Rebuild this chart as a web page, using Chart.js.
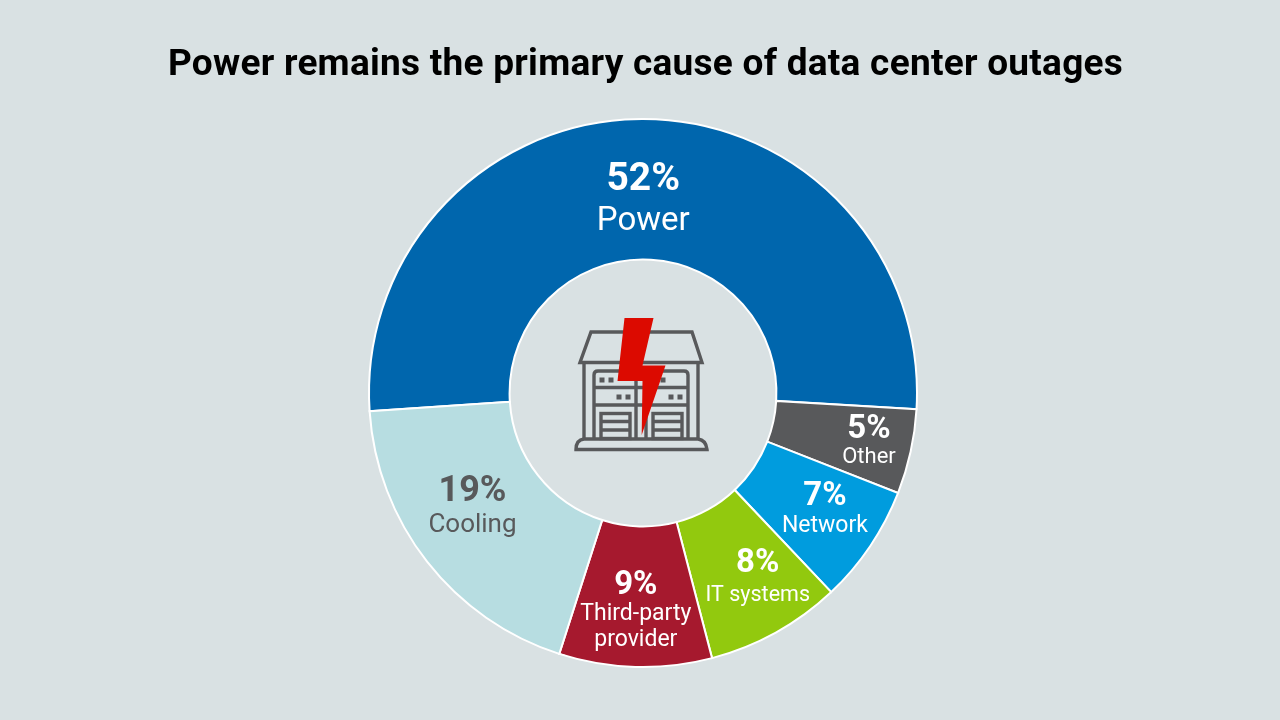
<!DOCTYPE html>
<html>
<head>
<meta charset="utf-8">
<title>Data center outages</title>
<script src="https://cdn.jsdelivr.net/npm/chart.js@4"></script>
<style>
  html, body { margin: 0; padding: 0; background: #d9e1e3; }
  #wrap { width: 1280px; height: 720px; }
</style>
</head>
<body>
<div id="wrap"><canvas id="chart" width="1280" height="720"></canvas></div>
<script>
  var TITLE = 'Power remains the primary cause of data center outages';
  var categories = ['Power', 'Other', 'Network', 'IT systems', 'Third-party provider', 'Cooling'];
  var values = [52, 5, 7, 8, 9, 19];
  var labelLines = [['Power'], ['Other'], ['Network'], ['IT systems'], ['Third-party', 'provider'], ['Cooling']];

  var COLORS = ['#0066ad', '#58595b', '#009cde', '#92c90e', '#a6192e', '#b7dde1'];
  var TEXT_COLORS = ['#ffffff', '#ffffff', '#ffffff', '#ffffff', '#ffffff', '#58595b'];
  var GREY = '#58595b';
  var FONT = 'Roboto, sans-serif';

  // label tweaks relative to each arc's centre point: dx, dy, percent size, name size, gap to name
  var LABEL_STYLE = [
    [1, -9, 39, 33, 41],
    [27, -7, 33, 22, 28],
    [13, -10, 33, 23, 29],
    [16, -7, 33, 21.5, 31],
    [-1.5, -11, 33, 23, 29],
    [-10, -26, 36, 26, 33]
  ];

  // ── Title ─────────────────────────────────────────────────────────

  var chartTitle = {
    id: 'chartTitle',
    afterDraw: function (chart) {
      var ctx = chart.ctx;
      ctx.save();
      ctx.fillStyle = '#000000';
      ctx.font = 'bold 37px ' + FONT;
      ctx.letterSpacing = '0.26px';
      ctx.textAlign = 'center';
      ctx.textBaseline = 'alphabetic';
      ctx.fillText(TITLE, 645.5, 75);
      ctx.restore();
    }
  };

  // ── Slice labels ──────────────────────────────────────────────────

  var sliceLabels = {
    id: 'sliceLabels',
    afterDatasetsDraw: function (chart) {
      var ctx = chart.ctx;
      var arcs = chart.getDatasetMeta(0).data;
      ctx.save();
      ctx.textAlign = 'center';
      ctx.textBaseline = 'middle';
      arcs.forEach(function (arc, i) {
        var c = arc.getCenterPoint();
        var st = LABEL_STYLE[i];
        var x = c.x + st[0];
        var y = c.y + st[1];
        ctx.fillStyle = TEXT_COLORS[i];
        ctx.font = 'bold ' + st[2] + 'px ' + FONT;
        ctx.fillText(values[i] + '%', x, y);
        ctx.font = '400 ' + st[3] + 'px ' + FONT;
        labelLines[i].forEach(function (line, j) {
          ctx.fillText(line, x, y + st[4] + j * 26);
        });
      });
      ctx.restore();
    }
  };

  // ── Centre icon ───────────────────────────────────────────────────

  function poly(ctx, pts, close) {
    ctx.beginPath();
    pts.forEach(function (p, i) {
      if (i === 0) ctx.moveTo(p[0], p[1]);
      else ctx.lineTo(p[0], p[1]);
    });
    if (close) ctx.closePath();
  }

  var centerIcon = {
    id: 'centerIcon',
    afterDatasetsDraw: function (chart) {
      var ctx = chart.ctx;
      var arc = chart.getDatasetMeta(0).data[0];
      ctx.save();
      // icon is laid out around the doughnut centre
      ctx.translate(arc.x - 643, arc.y - 393);
      ctx.strokeStyle = GREY;
      ctx.fillStyle = GREY;
      ctx.lineWidth = 3.4;

      poly(ctx, [[591, 332], [692, 332], [702, 362.5], [580, 362.5]], true);
      ctx.stroke();
      poly(ctx, [[584, 362], [584, 439]]); ctx.stroke();
      poly(ctx, [[698, 362], [698, 439]]); ctx.stroke();

      // server fronts
      ctx.beginPath();
      ctx.moveTo(594, 439);
      ctx.lineTo(594, 375);
      ctx.quadraticCurveTo(594, 371, 598, 371);
      ctx.lineTo(684, 371);
      ctx.quadraticCurveTo(688, 371, 688, 375);
      ctx.lineTo(688, 439);
      ctx.moveTo(636, 371); ctx.lineTo(636, 439);
      ctx.moveTo(646, 371); ctx.lineTo(646, 439);
      ctx.moveTo(594, 387.5); ctx.lineTo(688, 387.5);
      ctx.moveTo(594, 405); ctx.lineTo(688, 405);
      ctx.stroke();

      // doors
      [[601, 630], [653, 682]].forEach(function (d) {
        ctx.strokeRect(d[0], 413.5, d[1] - d[0], 25);
        ctx.beginPath();
        ctx.moveTo(d[0], 421.5); ctx.lineTo(d[1], 421.5);
        ctx.moveTo(d[0], 430); ctx.lineTo(d[1], 430);
        ctx.stroke();
      });

      // status lights
      [[602, 380], [611, 380], [619, 397], [628, 397], [663, 380], [671, 397], [680, 397]].forEach(function (p) {
        ctx.fillRect(p[0] - 2.5, p[1] - 2.5, 5, 5);
      });

      // base
      ctx.beginPath();
      ctx.moveTo(576, 449.5);
      ctx.quadraticCurveTo(576, 440, 584, 439);
      ctx.lineTo(698, 439);
      ctx.quadraticCurveTo(706, 440, 707, 449.5);
      ctx.closePath();
      ctx.stroke();

      // bolt
      ctx.fillStyle = '#dc0a00';
      poly(ctx, [[624.5, 318], [653.5, 318], [642.5, 365.5], [665.5, 365.5], [641.7, 435], [642.5, 381], [617.5, 381]], true);
      ctx.fill();
      ctx.restore();
    }
  };

  // ── Chart ─────────────────────────────────────────────────────────

  Chart.defaults.font.family = FONT;

  new Chart(document.getElementById('chart'), {
    type: 'doughnut',
    data: {
      labels: categories,
      datasets: [{
        data: values,
        backgroundColor: COLORS,
        borderColor: '#ffffff',
        borderWidth: 2,
        borderJoinStyle: 'miter',
        hoverOffset: 0
      }]
    },
    options: {
      responsive: false,
      animation: false,
      rotation: 266.2,
      cutout: '48.7%',
      layout: { padding: { left: 368, right: 362, top: 118, bottom: 52 } },
      plugins: {
        legend: { display: false },
        tooltip: { enabled: false }
      }
    },
    plugins: [sliceLabels, centerIcon, chartTitle]
  });
</script>
</body>
</html>
